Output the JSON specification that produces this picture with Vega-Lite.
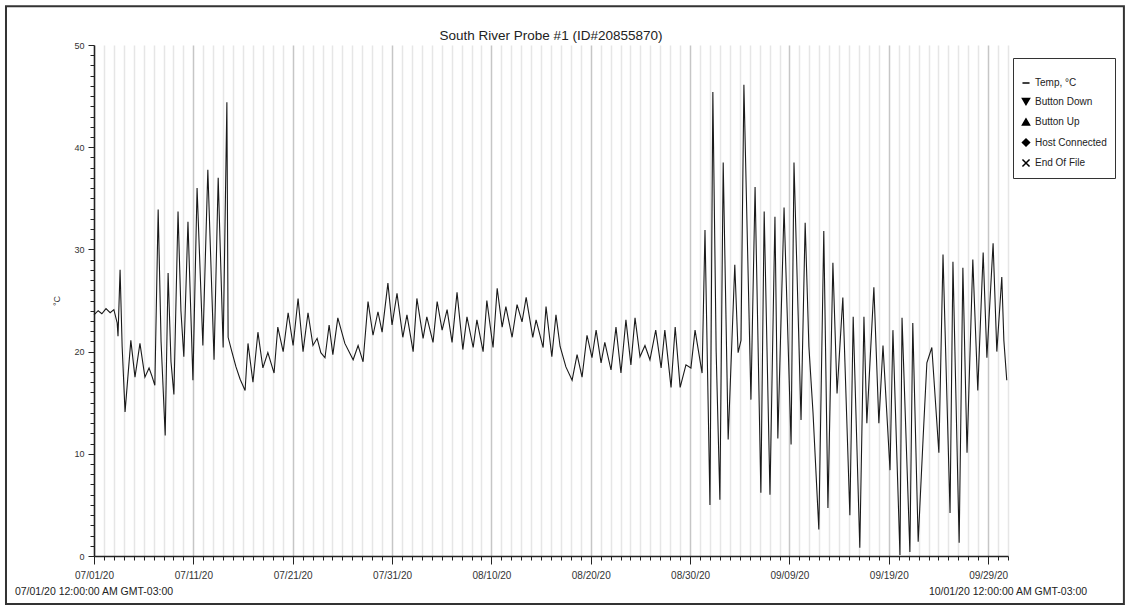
{
  "$schema": "https://vega.github.io/schema/vega-lite/v6.json",
  "width": 914,
  "height": 511,
  "autosize": {"type": "none"},
  "padding": {"left": 94, "top": 45, "right": 122, "bottom": 54},
  "background": "white",
  "title": {"text": "South River Probe #1 (ID#20855870)", "fontSize": 13.5, "fontWeight": "normal", "font": "Liberation Sans", "color": "#222", "offset": -37, "anchor": "middle"},
  "config": {"view": {"stroke": null}, "font": "Liberation Sans"},
  "datasets": {
    "temps": [
      {"time":"2020-07-01T00:00","temp":23.6},{"time":"2020-07-01T10:00","temp":24.0},{"time":"2020-07-01T19:00","temp":23.7},
      {"time":"2020-07-02T05:00","temp":24.2},{"time":"2020-07-02T15:00","temp":23.8},{"time":"2020-07-03T00:00","temp":24.1},
      {"time":"2020-07-03T08:00","temp":22.8},{"time":"2020-07-03T10:00","temp":21.5},{"time":"2020-07-03T15:00","temp":28.0},
      {"time":"2020-07-03T20:00","temp":20.5},{"time":"2020-07-04T03:00","temp":14.1},{"time":"2020-07-04T17:00","temp":21.1},
      {"time":"2020-07-05T03:00","temp":17.5},{"time":"2020-07-05T15:00","temp":20.8},{"time":"2020-07-06T03:00","temp":17.5},
      {"time":"2020-07-06T13:00","temp":18.4},{"time":"2020-07-06T20:00","temp":17.6},{"time":"2020-07-07T03:00","temp":16.7},
      {"time":"2020-07-07T11:00","temp":33.9},{"time":"2020-07-07T18:00","temp":21.0},{"time":"2020-07-08T04:00","temp":11.8},
      {"time":"2020-07-08T11:00","temp":27.7},{"time":"2020-07-08T18:00","temp":19.0},{"time":"2020-07-09T01:00","temp":15.8},
      {"time":"2020-07-09T11:00","temp":33.7},{"time":"2020-07-09T18:00","temp":24.0},{"time":"2020-07-10T01:00","temp":19.5},
      {"time":"2020-07-10T11:00","temp":32.7},{"time":"2020-07-10T23:00","temp":17.2},{"time":"2020-07-11T09:00","temp":36.0},
      {"time":"2020-07-11T23:00","temp":20.6},{"time":"2020-07-12T11:00","temp":37.8},{"time":"2020-07-13T02:00","temp":19.2},
      {"time":"2020-07-13T12:00","temp":37.0},{"time":"2020-07-14T00:00","temp":20.4},{"time":"2020-07-14T09:00","temp":44.4},
      {"time":"2020-07-14T12:00","temp":21.4},{"time":"2020-07-14T21:00","temp":20.0},{"time":"2020-07-15T07:00","temp":18.5},
      {"time":"2020-07-15T17:00","temp":17.3},{"time":"2020-07-16T05:00","temp":16.2},{"time":"2020-07-16T12:00","temp":20.8},
      {"time":"2020-07-17T00:00","temp":17.0},{"time":"2020-07-17T12:00","temp":21.9},{"time":"2020-07-18T00:00","temp":18.4},
      {"time":"2020-07-18T12:00","temp":19.9},{"time":"2020-07-19T03:00","temp":17.9},{"time":"2020-07-19T12:00","temp":22.4},
      {"time":"2020-07-20T01:00","temp":20.0},{"time":"2020-07-20T13:00","temp":23.8},{"time":"2020-07-21T01:00","temp":20.6},
      {"time":"2020-07-21T13:00","temp":25.2},{"time":"2020-07-22T01:00","temp":20.0},{"time":"2020-07-22T13:00","temp":23.8},
      {"time":"2020-07-23T01:00","temp":20.6},{"time":"2020-07-23T11:00","temp":21.3},{"time":"2020-07-23T20:00","temp":19.9},
      {"time":"2020-07-24T06:00","temp":19.4},{"time":"2020-07-24T16:00","temp":22.6},{"time":"2020-07-25T01:00","temp":19.7},
      {"time":"2020-07-25T13:00","temp":23.3},{"time":"2020-07-26T06:00","temp":20.8},{"time":"2020-07-27T02:00","temp":19.2},
      {"time":"2020-07-27T14:00","temp":20.6},{"time":"2020-07-28T02:00","temp":19.0},{"time":"2020-07-28T14:00","temp":24.9},
      {"time":"2020-07-29T02:00","temp":21.6},{"time":"2020-07-29T14:00","temp":23.9},{"time":"2020-07-30T00:00","temp":21.9},
      {"time":"2020-07-30T14:00","temp":26.7},{"time":"2020-07-31T00:00","temp":22.6},{"time":"2020-07-31T12:00","temp":25.7},
      {"time":"2020-08-01T02:00","temp":21.4},{"time":"2020-08-01T12:00","temp":23.6},{"time":"2020-08-02T03:00","temp":20.0},
      {"time":"2020-08-02T12:00","temp":25.2},{"time":"2020-08-03T03:00","temp":21.3},{"time":"2020-08-03T12:00","temp":23.4},
      {"time":"2020-08-04T03:00","temp":20.9},{"time":"2020-08-04T13:00","temp":24.9},{"time":"2020-08-05T01:00","temp":22.1},
      {"time":"2020-08-05T13:00","temp":24.1},{"time":"2020-08-06T01:00","temp":20.9},{"time":"2020-08-06T13:00","temp":25.8},
      {"time":"2020-08-07T03:00","temp":20.2},{"time":"2020-08-07T13:00","temp":23.4},{"time":"2020-08-08T04:00","temp":20.4},
      {"time":"2020-08-08T13:00","temp":23.1},{"time":"2020-08-09T04:00","temp":20.0},{"time":"2020-08-09T13:00","temp":25.0},
      {"time":"2020-08-10T04:00","temp":20.4},{"time":"2020-08-10T14:00","temp":26.2},{"time":"2020-08-11T02:00","temp":22.4},
      {"time":"2020-08-11T11:00","temp":24.4},{"time":"2020-08-12T02:00","temp":21.4},{"time":"2020-08-12T14:00","temp":24.6},
      {"time":"2020-08-13T02:00","temp":22.9},{"time":"2020-08-13T12:00","temp":25.3},{"time":"2020-08-14T04:00","temp":21.4},
      {"time":"2020-08-14T12:00","temp":23.1},{"time":"2020-08-15T05:00","temp":20.4},{"time":"2020-08-15T12:00","temp":24.4},
      {"time":"2020-08-16T02:00","temp":19.5},{"time":"2020-08-16T12:00","temp":23.6},{"time":"2020-08-16T22:00","temp":20.5},
      {"time":"2020-08-17T12:00","temp":18.5},{"time":"2020-08-18T03:00","temp":17.2},{"time":"2020-08-18T15:00","temp":19.7},
      {"time":"2020-08-19T03:00","temp":17.5},{"time":"2020-08-19T15:00","temp":21.6},{"time":"2020-08-20T03:00","temp":19.4},
      {"time":"2020-08-20T13:00","temp":22.1},{"time":"2020-08-21T01:00","temp":18.9},{"time":"2020-08-21T10:00","temp":20.9},
      {"time":"2020-08-22T01:00","temp":18.2},{"time":"2020-08-22T13:00","temp":22.4},{"time":"2020-08-23T01:00","temp":17.9},
      {"time":"2020-08-23T13:00","temp":23.1},{"time":"2020-08-24T01:00","temp":18.7},{"time":"2020-08-24T11:00","temp":23.3},
      {"time":"2020-08-24T23:00","temp":19.5},{"time":"2020-08-25T11:00","temp":20.6},{"time":"2020-08-25T23:00","temp":19.2},
      {"time":"2020-08-26T13:00","temp":22.1},{"time":"2020-08-27T02:00","temp":18.4},{"time":"2020-08-27T11:00","temp":22.1},
      {"time":"2020-08-28T02:00","temp":16.5},{"time":"2020-08-28T12:00","temp":22.4},{"time":"2020-08-29T00:00","temp":16.5},
      {"time":"2020-08-29T14:00","temp":18.7},{"time":"2020-08-30T02:00","temp":18.4},{"time":"2020-08-30T12:00","temp":22.1},
      {"time":"2020-08-31T05:00","temp":17.9},{"time":"2020-08-31T12:00","temp":31.9},{"time":"2020-09-01T00:00","temp":5.0},
      {"time":"2020-09-01T07:00","temp":45.4},{"time":"2020-09-01T15:00","temp":20.0},{"time":"2020-09-02T00:00","temp":5.5},
      {"time":"2020-09-02T08:00","temp":38.5},{"time":"2020-09-02T20:00","temp":11.4},{"time":"2020-09-03T12:00","temp":28.5},
      {"time":"2020-09-03T20:00","temp":19.9},{"time":"2020-09-04T03:00","temp":21.1},{"time":"2020-09-04T10:00","temp":46.1},
      {"time":"2020-09-05T03:00","temp":15.3},{"time":"2020-09-05T13:00","temp":36.1},{"time":"2020-09-06T03:00","temp":6.2},
      {"time":"2020-09-06T11:00","temp":33.7},{"time":"2020-09-07T01:00","temp":6.0},{"time":"2020-09-07T13:00","temp":33.2},
      {"time":"2020-09-07T20:00","temp":11.5},{"time":"2020-09-08T11:00","temp":34.1},{"time":"2020-09-09T04:00","temp":10.9},
      {"time":"2020-09-09T11:00","temp":38.5},{"time":"2020-09-10T04:00","temp":13.3},{"time":"2020-09-10T14:00","temp":32.6},
      {"time":"2020-09-10T23:00","temp":20.5},{"time":"2020-09-11T09:00","temp":14.0},{"time":"2020-09-11T23:00","temp":2.6},
      {"time":"2020-09-12T11:00","temp":31.8},{"time":"2020-09-12T21:00","temp":4.7},{"time":"2020-09-13T09:00","temp":28.7},
      {"time":"2020-09-13T19:00","temp":15.9},{"time":"2020-09-14T09:00","temp":25.3},{"time":"2020-09-15T02:00","temp":4.0},
      {"time":"2020-09-15T10:00","temp":23.4},{"time":"2020-09-16T02:00","temp":0.8},{"time":"2020-09-16T12:00","temp":23.4},
      {"time":"2020-09-16T19:00","temp":13.0},{"time":"2020-09-17T12:00","temp":26.3},{"time":"2020-09-18T00:00","temp":13.0},
      {"time":"2020-09-18T10:00","temp":20.6},{"time":"2020-09-19T03:00","temp":8.4},{"time":"2020-09-19T10:00","temp":22.1},
      {"time":"2020-09-20T03:00","temp":0.1},{"time":"2020-09-20T08:00","temp":23.3},{"time":"2020-09-21T03:00","temp":0.4},
      {"time":"2020-09-21T10:00","temp":22.8},{"time":"2020-09-21T23:00","temp":1.4},{"time":"2020-09-22T11:00","temp":11.6},
      {"time":"2020-09-22T20:00","temp":18.9},{"time":"2020-09-23T08:00","temp":20.4},{"time":"2020-09-24T01:00","temp":10.1},
      {"time":"2020-09-24T11:00","temp":29.5},{"time":"2020-09-25T04:00","temp":4.2},{"time":"2020-09-25T11:00","temp":28.8},
      {"time":"2020-09-26T02:00","temp":1.3},{"time":"2020-09-26T11:00","temp":28.2},{"time":"2020-09-26T21:00","temp":10.1},
      {"time":"2020-09-27T11:00","temp":29.0},{"time":"2020-09-27T23:00","temp":16.2},{"time":"2020-09-28T12:00","temp":29.7},
      {"time":"2020-09-28T21:00","temp":19.4},{"time":"2020-09-29T12:00","temp":30.6},{"time":"2020-09-29T21:00","temp":20.0},
      {"time":"2020-09-30T09:00","temp":27.3},{"time":"2020-09-30T14:00","temp":21.1},{"time":"2020-09-30T21:00","temp":17.2}
    ],
    "ends": [
      {"time":"2020-07-01T00:00","label":"07/01/20 12:00:00 AM GMT-03:00"},
      {"time":"2020-10-01T00:00","label":"10/01/20 12:00:00 AM GMT-03:00"}
    ],
    "legendItems": [
      {"item":"Temp, °C"},{"item":"Button Down"},{"item":"Button Up"},{"item":"Host Connected"},{"item":"End Of File"}
    ],
    "frame": [{"frame": "outer"}]
  },
  "layer": [
    {
      "data": {"name": "temps"},
      "mark": {"type": "line", "color": "#1a1a1a", "strokeWidth": 1.1, "interpolate": "linear"},
      "encoding": {
        "x": {
          "field": "time", "type": "temporal",
          "scale": {"domain": [{"year":2020,"month":7,"date":1},{"year":2020,"month":10,"date":1}], "nice": false},
          "axis": {
            "title": null,
            "tickCount": {"interval": "day", "step": 1},
            "grid": true,
            "gridColor": {"condition": {"test": "round((datum.value - datetime(2020,6,1))/86400000) % 10 === 0", "value": "#c6c6c6"}, "value": "#e6e6e6"},
            "gridWidth": 1.5,
            "tickSize": {"condition": {"test": "round((datum.value - datetime(2020,6,1))/86400000) % 10 === 0", "value": 8}, "value": 4},
            "tickColor": "#222",
            "tickWidth": 1,
            "domainColor": "#222",
            "domainWidth": 1.5,
            "labelExpr": "round((datum.value - datetime(2020,6,1))/86400000) % 10 === 0 ? timeFormat(datum.value, '%m/%d/%y') : ''",
            "labelFontSize": 10,
            "labelColor": "#333",
            "labelPadding": 6,
            "labelOverlap": false,
            "labelFlush": false
          }
        },
        "y": {
          "field": "temp", "type": "quantitative",
          "scale": {"domain": [0, 50], "nice": false},
          "axis": {
            "title": "°C",
            "titleFontSize": 9,
            "titleFontWeight": "normal",
            "titleColor": "#333",
            "titlePadding": 12,
            "values": [0,1,2,3,4,5,6,7,8,9,10,11,12,13,14,15,16,17,18,19,20,21,22,23,24,25,26,27,28,29,30,31,32,33,34,35,36,37,38,39,40,41,42,43,44,45,46,47,48,49,50],
            "tickCount": 200,
            "format": "d",
            "labelFontSize": {"condition": {"test": "datum.value % 10 === 0", "value": 9}, "value": 1},
            "labelOpacity": {"condition": {"test": "datum.value % 10 === 0", "value": 1}, "value": 0},
            "tickSize": {"condition": {"test": "datum.value % 10 === 0", "value": 6}, "value": 4},
            "tickColor": "#222",
            "domainColor": "#222",
            "domainWidth": 1.5,
            "grid": false,
            "labelColor": "#333",
            "labelPadding": 4,
            "labelOverlap": false,
            "labelBound": false,
            "labelFlush": false
          }
        }
      }
    },
    {
      "data": {"name": "ends"},
      "mark": {"type": "text", "fontSize": 10.5, "color": "#222", "align": "center", "baseline": "middle", "font": "Liberation Sans"},
      "encoding": {
        "x": {"field": "time", "type": "temporal"},
        "y": {"datum": -3.5},
        "text": {"field": "label"}
      }
    },
    {
      "data": {"name": "legendItems"},
      "mark": {"type": "point", "filled": true, "fill": "black", "strokeWidth": 1.5, "opacity": 0},
      "encoding": {
        "shape": {
          "field": "item", "type": "nominal",
          "scale": {"domain": ["Temp, °C","Button Down","Button Up","Host Connected","End Of File"], "range": ["stroke","triangle-down","triangle-up","diamond","M-1,-1L1,1M-1,1L1,-1"]},
          "legend": {
            "title": " ",
            "titleFontSize": 10,
            "titlePadding": 2,
            "orient": "none",
            "legendX": 919,
            "legendY": 13,
            "strokeColor": "#333",
            "fillColor": "white",
            "padding": 8,
            "labelFontSize": 10,
            "labelColor": "#222",
            "labelFont": "Liberation Sans",
            "symbolSize": 50,
            "symbolOpacity": 1,
            "symbolStrokeWidth": 1.5,
            "rowPadding": 6.5,
            "labelOffset": 4
          }
        },
        "stroke": {
          "field": "item", "type": "nominal",
          "scale": {"domain": ["Temp, °C","Button Down","Button Up","Host Connected","End Of File"], "range": ["black","black","black","black","black"]},
          "legend": {
            "title": " ",
            "titleFontSize": 10,
            "titlePadding": 2,
            "orient": "none",
            "legendX": 919,
            "legendY": 13,
            "strokeColor": "#333",
            "fillColor": "white",
            "padding": 8,
            "labelFontSize": 10,
            "labelColor": "#222",
            "labelFont": "Liberation Sans",
            "symbolSize": 50,
            "symbolOpacity": 1,
            "symbolStrokeWidth": 1.5,
            "rowPadding": 6.5,
            "labelOffset": 4
          }
        }
      }
    },
    {
      "data": {"name": "frame"},
      "mark": {"type": "rect", "fill": null, "stroke": "#333", "strokeWidth": 2},
      "encoding": {
        "x": {"datum": {"year":2020,"month":6,"date":22,"hours":3,"minutes":24}, "type": "temporal"},
        "x2": {"datum": {"year":2020,"month":10,"date":12,"hours":16}},
        "y": {"datum": 53.8, "type": "quantitative"},
        "y2": {"datum": -4.7}
      }
    }
  ]
}
